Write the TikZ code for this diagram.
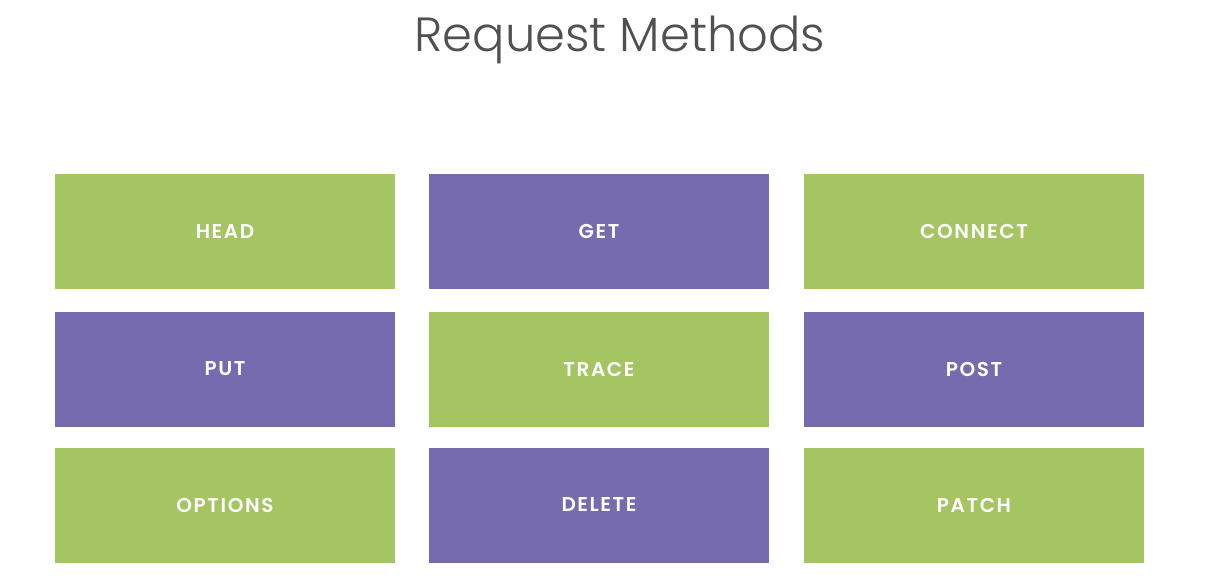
\documentclass[tikz,border=0pt]{standalone}
\usepackage{fontspec}
\setmainfont{Poppins}
\newfontfamily\titlefont{Poppins Light}
\newfontfamily\labelfont{Poppins SemiBold}[LetterSpace=8]
\definecolor{mgreen}{HTML}{A5C563}
\definecolor{mpurple}{HTML}{776BB0}
\definecolor{titlegray}{HTML}{505050}
\begin{document}
\begin{tikzpicture}[x=1pt,y=-1pt,
  mbox/.style={minimum width=340pt,minimum height=115pt,inner sep=0pt,text=white,font=\labelfont\fontsize{20}{22}\selectfont},
  gbox/.style={mbox,fill=mgreen},
  pbox/.style={mbox,fill=mpurple}]
\useasboundingbox (0,0) rectangle (1215,588);
\node[text=titlegray,font=\titlefont\fontsize{48}{52}\selectfont,anchor=base] (title) at (620,52) {Request Methods};
\node[gbox] (head) at (225,231.5) {HEAD};
\node[pbox] (get) at (599,231.5) {GET};
\node[gbox] (connect) at (974,231.5) {CONNECT};
\node[pbox] (put) at (225,369) {PUT};
\node[gbox] (trace) at (599,369) {TRACE};
\node[pbox] (post) at (974,369) {POST};
\node[gbox] (options) at (225,505) {OPTIONS};
\node[pbox] (delete) at (599,505) {DELETE};
\node[gbox] (patch) at (974,505) {PATCH};
\end{tikzpicture}
\end{document}
